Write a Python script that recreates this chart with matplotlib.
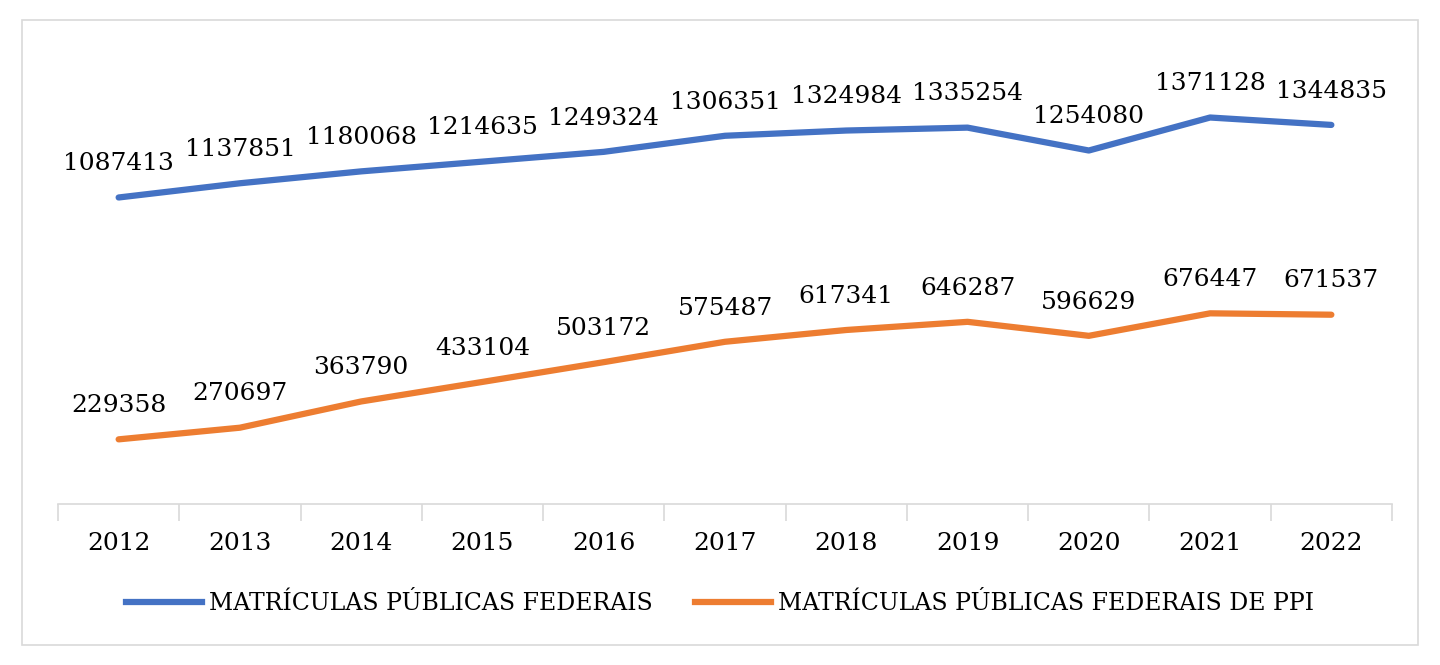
import matplotlib
matplotlib.use("Agg")
import matplotlib.pyplot as plt
from matplotlib.patches import Rectangle
from matplotlib.lines import Line2D

years = ["2012","2013","2014","2015","2016","2017","2018","2019","2020","2021","2022"]
federais = [1087413,1137851,1180068,1214635,1249324,1306351,1324984,1335254,1254080,1371128,1344835]
ppi = [229358,270697,363790,433104,503172,575487,617341,646287,596629,676447,671537]
names = ["MATRÍCULAS PÚBLICAS FEDERAIS", "MATRÍCULAS PÚBLICAS FEDERAIS DE PPI"]
colors = ["#4472C4", "#ED7D31"]

plt.rcParams['font.family'] = ['DejaVu Serif']
fig = plt.figure(figsize=(14.4, 6.65), dpi=100)
fig.patches.append(Rectangle((22/1440, 20/665), 1396/1440, 625/665, transform=fig.transFigure,
                             fill=False, edgecolor="#D9D9D9", linewidth=1.2))
ax = fig.add_axes([58/1440, 161/665, 1334/1440, 451/665])
x = list(range(len(years)))
for vals, c in zip([federais, ppi], colors):
    ax.plot(x, vals, color=c, linewidth=4.5, solid_capstyle='round')
    for xi, v in zip(x, vals):
        ax.annotate(str(v), (xi, v), xytext=(0, 16), textcoords='offset points',
                    ha='center', va='bottom', fontsize=18, color='#000000')
ax.set_xlim(-0.5, len(years) - 0.5)
ax.set_ylim(0, 1600000)
ax.set_yticks([])
for s in ['top', 'right', 'left']:
    ax.spines[s].set_visible(False)
ax.spines['bottom'].set_color('#D9D9D9')
ax.spines['bottom'].set_linewidth(1.2)
ax.set_xticks(x)
ax.set_xticklabels(years, fontsize=18)
ax.tick_params(axis='x', length=0, pad=20)
ax.set_xticks([i - 0.5 for i in range(len(years) + 1)], minor=True)
ax.tick_params(axis='x', which='minor', length=12, color='#D9D9D9', width=1.2)
handles = [Line2D([0], [0], color=c, linewidth=4.5) for c in colors]
fig.legend(handles, names, loc='center', bbox_to_anchor=(0.5, (665-604)/665), ncol=2,
           frameon=False, fontsize=17, handlelength=3.2, columnspacing=1.8, handletextpad=0.3)
fig.savefig("out.png", dpi=100)
